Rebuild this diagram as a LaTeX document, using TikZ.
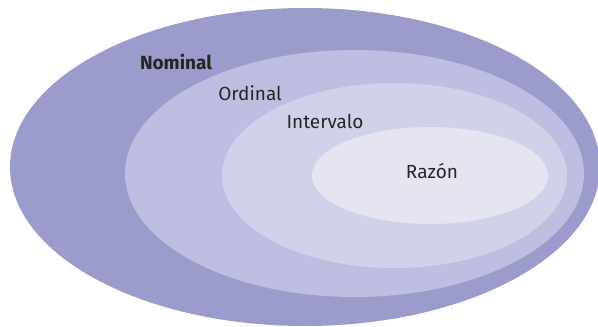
\documentclass[tikz,border=0pt]{standalone}
\usepackage{fontspec}
\setmainfont{Fira Sans}
\usepackage{tikz}
\usetikzlibrary{positioning, shapes.geometric}
\definecolor{nomcol}{RGB}{155,155,204}
\definecolor{ordcol}{RGB}{190,190,224}
\definecolor{intcol}{RGB}{209,209,233}
\definecolor{razcol}{RGB}{229,229,242}

\begin{document}
\begin{tikzpicture}[
    x=1pt, y=-1pt,
    level/.style={ellipse, draw=none, inner sep=0pt},
    lbl/.style={font=\fontsize{19}{22}\selectfont, text=black!85, inner sep=0pt}
  ]
  \useasboundingbox (0,0) rectangle (598,327);

  % Nested levels of measurement
  \node[level, fill=nomcol, minimum width=590pt, minimum height=318pt] (nom) at (305,167) {};
  \node[level, fill=ordcol, minimum width=459pt, minimum height=247pt] (ord) at (354.5,173.5) {};
  \node[level, fill=intcol, minimum width=345pt, minimum height=185pt] (int) at (394.5,175.5) {};
  \node[level, fill=razcol, minimum width=236pt, minimum height=97pt] (raz) at (430,175.5) {};

  % Labels
  \node[lbl, font=\fontsize{19}{22}\selectfont\bfseries] (tnom) at (176,62) {Nominal};
  \node[lbl] (tord) at (250,93) {Ordinal};
  \node[lbl] (tint) at (325,121) {Intervalo};
  \node[lbl] (traz) at (432,171) {Razón};
\end{tikzpicture}
\end{document}
